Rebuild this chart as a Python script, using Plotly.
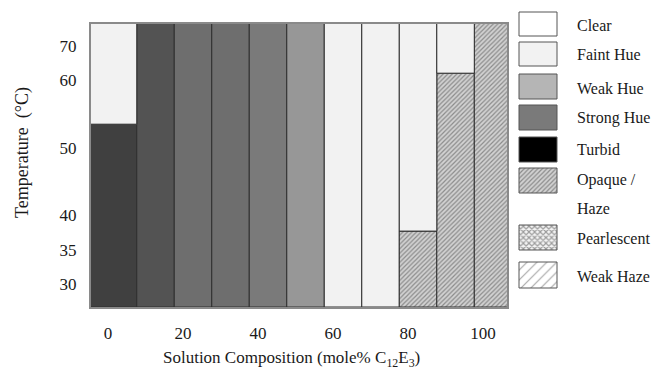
import numpy as np
import plotly.graph_objects as go

# ---------------- data ----------------
COMPOSITION = [0, 10, 20, 30, 40, 50, 60, 70, 80, 90, 100]          # mole% C12E3
# temperature where the lower state changes to the upper one (None = whole column)
TRANSITION_T = [53.5, None, None, None, None, None, None, None, 37.7, 62.0, None]
LOWER_STATE = ["Turbid*", "Strong Hue+", "Strong Hue", "Strong Hue", "Strong Hue-",
               "Weak Hue", "Faint Hue", "Faint Hue", "Opaque / Haze", "Opaque / Haze",
               "Opaque / Haze"]
UPPER_STATE = ["Faint Hue", None, None, None, None, None, None, None,
               "Faint Hue", "Faint Hue", None]

X_TICKS = [0, 20, 40, 60, 80, 100]
Y_TICKS = [30, 35, 40, 50, 60, 70]

LEGEND_LABELS = ["Clear", "Faint Hue", "Weak Hue", "Strong Hue", "Turbid",
                 "Opaque /", "Pearlescent", "Weak Haze"]

X_TITLE = "Solution Composition (mole% C<sub>12</sub>E<sub>3</sub>)"
Y_TITLE = "Temperature  (°C)"

# ---------------- styles ----------------
STATE_COLOR = {
    "Turbid*": "#404040", "Strong Hue+": "#535353", "Strong Hue": "#6e6e6e",
    "Strong Hue-": "#7a7a7a", "Weak Hue": "#979797", "Faint Hue": "#f2f2f2",
    "Opaque / Haze": "#d2d2d2",
}
STATE_SHAPE = {"Opaque / Haze": "/"}

# the reference uses a non-uniform temperature scale: (temperature, axis position)
SCALE_T = [26.6, 30, 35, 40, 50, 60, 70, 76.6]
SCALE_P = [0, 23, 57, 92, 159, 227, 261, 283.5]
TOP = SCALE_P[-1]


def to_pos(t):
    return float(np.interp(t, SCALE_T, SCALE_P))


FONT = "Liberation Serif, Times New Roman, serif"
TXT = "#1a1a1a"

lower_h, upper_b, upper_h = [], [], []
lower_c, lower_s, upper_c = [], [], []
for t, lo, up in zip(TRANSITION_T, LOWER_STATE, UPPER_STATE):
    p = TOP if t is None else to_pos(t)
    lower_h.append(p)
    upper_b.append(p)
    upper_h.append(TOP - p)
    lower_c.append(STATE_COLOR[lo])
    lower_s.append(STATE_SHAPE.get(lo, ""))
    upper_c.append(STATE_COLOR.get(up, "#f2f2f2") if up else "#f2f2f2")

offsets = [-4.7] + [-2.3] * (len(COMPOSITION) - 1)
widths = [12.4] + [10] * (len(COMPOSITION) - 1)

fig = go.Figure()
fig.add_trace(go.Bar(
    x=COMPOSITION, y=lower_h, base=[0] * len(COMPOSITION),
    offset=offsets, width=widths,
    marker=dict(color=lower_c, line=dict(color="#2e2e2e", width=1),
                pattern=dict(shape=lower_s, fgcolor="#444444", size=3.2,
                             solidity=0.38, fillmode="overlay")),
    showlegend=False, hoverinfo="skip"))
fig.add_trace(go.Bar(
    x=COMPOSITION, y=upper_h, base=upper_b,
    offset=offsets, width=widths,
    marker=dict(color=upper_c, line=dict(color="#2e2e2e", width=1)),
    showlegend=False, hoverinfo="skip"))

# ---------------- custom legend (own axes, page-pixel units) ----------------
LEG_TOP = [12, 42, 74, 105, 137, 168, 225, 262]
LEG_H = [24, 24, 25, 25, 25, 25, 25, 26]
LEG_FILL = ["#ffffff", "#f2f2f2", "#b5b5b5", "#7a7a7a", "#000000", "#d2d2d2",
            "#f4f4f4", "#ffffff"]
LEG_SHAPE = ["", "", "", "", "", "/", "x", "/"]
LEG_FG = ["#000", "#000", "#000", "#000", "#000", "#444444", "#b0b0b0", "#d9d9d9"]
LEG_SIZE = [4, 4, 4, 4, 4, 3.2, 4, 7]
LEG_SOL = [0.3, 0.3, 0.3, 0.3, 0.3, 0.38, 0.5, 0.15]

fig.add_trace(go.Bar(
    x=[538] * len(LEGEND_LABELS), y=LEG_H, base=LEG_TOP, width=38,
    xaxis="x2", yaxis="y2",
    marker=dict(color=LEG_FILL, line=dict(color="#555555", width=1),
                pattern=dict(shape=LEG_SHAPE, fgcolor=LEG_FG, size=LEG_SIZE,
                             solidity=LEG_SOL, fillmode="overlay")),
    showlegend=False, hoverinfo="skip"))

LEG_TEXT_Y = [25, 54, 88, 118, 149, 180, 238, 276]
annotations = []
for lab, ty in zip(LEGEND_LABELS, LEG_TEXT_Y):
    annotations.append(dict(x=575, y=ty, xref="x2", yref="y2", text=lab,
                            showarrow=False, xanchor="left", yanchor="middle",
                            font=dict(family=FONT, size=16, color=TXT)))
annotations.append(dict(x=575, y=208, xref="x2", yref="y2", text="Haze",
                        showarrow=False, xanchor="left", yanchor="middle",
                        font=dict(family=FONT, size=16, color=TXT)))

W, H = 655, 372
ML, MB = 91, 65
pw = W - ML
ph = H - MB
main_right = (507.3 - ML) / pw


def px(page_x):
    return (page_x - ML) / pw


def py(page_y):
    return (ph - page_y) / ph


annotations.append(dict(x=px(291), y=py(359), xref="paper", yref="paper",
                        text=X_TITLE, showarrow=False, xanchor="center",
                        yanchor="middle",
                        font=dict(family=FONT, size=17, color=TXT)))
annotations.append(dict(x=px(22), y=py(153), xref="paper", yref="paper",
                        text=Y_TITLE, showarrow=False, textangle=-90,
                        xanchor="center", yanchor="middle",
                        font=dict(family=FONT, size=18, color=TXT)))

fig.update_layout(
    width=W, height=H,
    margin=dict(l=ML, r=0, t=0, b=MB),
    paper_bgcolor="white", plot_bgcolor="white",
    barmode="overlay", bargap=0,
    font=dict(family=FONT, size=16, color=TXT),
    xaxis=dict(domain=[0, main_right], range=[-4.5, 106.5],
               tickvals=X_TICKS, ticktext=[str(v) for v in X_TICKS],
               ticks="", ticklabelstandoff=10, showgrid=False, zeroline=False,
               showline=True, mirror=True, linecolor="#8a8a8a", linewidth=2,
               tickfont=dict(family=FONT, size=17, color=TXT)),
    yaxis=dict(domain=[0, TOP / ph], range=[0, TOP],
               tickvals=[to_pos(t) for t in Y_TICKS],
               ticktext=[str(t) for t in Y_TICKS],
               ticks="", ticklabelstandoff=9, showgrid=False, zeroline=False,
               showline=True, mirror=True, linecolor="#8a8a8a", linewidth=2,
               tickfont=dict(family=FONT, size=17, color=TXT)),
    xaxis2=dict(domain=[(512 - ML) / pw, 1], range=[512, W], visible=False,
                anchor="y2"),
    yaxis2=dict(domain=[0, 1], range=[ph, 0], visible=False, anchor="x2"),
    annotations=annotations,
)

fig.write_html(
    "out.html",
    config={"displayModeBar": False, "staticPlot": True},
    post_script="document.body.style.margin='0';document.body.style.overflow='hidden';",
)
